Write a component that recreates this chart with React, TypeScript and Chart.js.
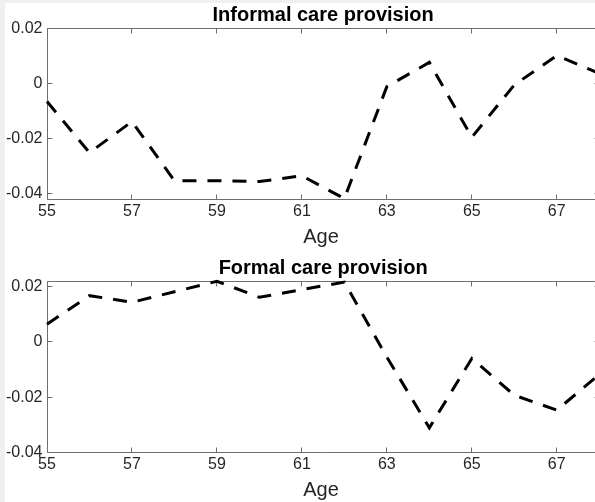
import { useEffect, useRef } from 'react';
import { Chart, registerables } from 'chart.js';

Chart.register(...registerables);

// ---- data ----
const AGES = [55, 56, 57, 58, 59, 60, 61, 62, 63, 64, 65, 66, 67, 68];
const INFORMAL = [-0.0065, -0.0251, -0.0138, -0.0353, -0.0353, -0.0356, -0.0335, -0.0418, -0.0011, 0.0077, -0.0195, -0.0005, 0.0102, 0.0037];
const FORMAL = [0.0064, 0.0167, 0.0143, 0.0181, 0.0219, 0.0161, 0.0189, 0.0216, -0.0055, -0.0311, -0.006, -0.0193, -0.0247, -0.0118];
const X_TICKS = [55, 57, 59, 61, 63, 65, 67];
const Y_TICKS = [-0.04, -0.02, 0, 0.02];
const X_LABEL = 'Age';
const TITLES = ['Informal care provision', 'Formal care provision'];

// visible part of the x axis (the axes run on to 68, just past the window edge)
const X_MIN = 55;
const X_VISIBLE_MAX = 67.9;
const X_FULL_MAX = 68;

const FONT = "'Liberation Sans', Arial, Helvetica, sans-serif";
const TEXT_COLOR = '#262626';
const AXIS_COLOR = '#6e6e6e';
const CANVAS_W = 595;
const CANVAS_H = 251;

type Panel = {
  title: string;
  values: number[];
  yMin: number;
  yMax: number;
  padTop: number;
  titleBaseline: number;
  xAxisHeight: number;
  labelPadBottom: number;
};

const PANELS: Panel[] = [
  { title: TITLES[0], values: INFORMAL, yMin: -0.0423, yMax: 0.0202, padTop: 28, titleBaseline: 20.5, xAxisHeight: 51, labelPadBottom: 3.5 },
  { title: TITLES[1], values: FORMAL, yMin: -0.0402, yMax: 0.022, padTop: 30, titleBaseline: 23, xAxisHeight: 49, labelPadBottom: 1.5 },
];

const matlabBox = {
  id: 'matlabBox',
  beforeDatasetsDraw(chart: any) {
    const { ctx, chartArea, scales } = chart;
    const { left, top, bottom } = chartArea;
    const x = scales.x;
    const y = scales.y;
    ctx.save();
    ctx.strokeStyle = AXIS_COLOR;
    ctx.lineWidth = 1;
    ctx.beginPath();
    const L = Math.floor(left) + 0.5;
    const T = Math.floor(top) + 0.5;
    const B = Math.ceil(bottom) - 0.5;
    const R = Math.ceil(x.getPixelForValue(X_FULL_MAX)) - 0.5;
    ctx.moveTo(R, T);
    ctx.lineTo(L, T);
    ctx.lineTo(L, B);
    ctx.lineTo(R, B);
    const len = 5;
    X_TICKS.forEach((v) => {
      const px = Math.floor(x.getPixelForValue(v)) + 0.5;
      ctx.moveTo(px, B);
      ctx.lineTo(px, B - len);
      ctx.moveTo(px, T);
      ctx.lineTo(px, T + len);
    });
    Y_TICKS.forEach((v) => {
      const py = Math.floor(y.getPixelForValue(v)) + 0.5;
      ctx.moveTo(L, py);
      ctx.lineTo(L + len, py);
      ctx.moveTo(R, py);
      ctx.lineTo(R - len, py);
    });
    ctx.stroke();
    ctx.restore();
  },
  afterDraw(chart: any, _args: any, opts: any) {
    const { ctx, scales } = chart;
    const cx = scales.x.getPixelForValue((X_MIN + X_FULL_MAX) / 2);
    ctx.save();
    ctx.font = `bold 20px ${FONT}`;
    ctx.fillStyle = '#000';
    ctx.textAlign = 'center';
    ctx.textBaseline = 'alphabetic';
    ctx.fillText(opts.text, cx, opts.baseline);
    ctx.restore();
  },
};

function makeChart(canvas: HTMLCanvasElement, p: Panel) {
  return new Chart(canvas, {
    type: 'line',
    data: {
      datasets: [
        {
          data: AGES.map((a, i) => ({ x: a, y: p.values[i] })),
          borderColor: '#000',
          borderWidth: 3,
          borderDash: [14, 11],
          borderCapStyle: 'butt',
          pointRadius: 0,
          tension: 0,
          fill: false,
          clip: false,
        },
      ],
    },
    options: {
      responsive: false,
      animation: false,
      devicePixelRatio: 1,
      layout: { padding: { top: p.padTop, right: 0, left: 0, bottom: 0 } },
      plugins: {
        legend: { display: false },
        tooltip: { enabled: false },
        title: { display: false },
        matlabBox: { text: p.title, baseline: p.titleBaseline },
      } as any,
      scales: {
        x: {
          type: 'linear',
          min: X_MIN,
          max: X_VISIBLE_MAX,
          afterBuildTicks: (s: any) => {
            s.ticks = X_TICKS.map((value) => ({ value }));
          },
          afterFit: (s: any) => {
            s.height = p.xAxisHeight;
            s.paddingRight = 0;
          },
          grid: { display: false, drawTicks: false },
          border: { display: false },
          ticks: {
            color: TEXT_COLOR,
            font: { family: FONT, size: 16 },
            padding: 1.5,
            maxRotation: 0,
            autoSkip: false,
            callback: (v: any) => String(v),
          },
          title: {
            display: true,
            text: X_LABEL,
            color: TEXT_COLOR,
            font: { family: FONT, size: 20, lineHeight: 1 },
            padding: { top: 0, bottom: p.labelPadBottom },
          },
        },
        y: {
          type: 'linear',
          min: p.yMin,
          max: p.yMax,
          afterBuildTicks: (s: any) => {
            s.ticks = Y_TICKS.map((value) => ({ value }));
          },
          afterFit: (s: any) => {
            s.width = 47;
          },
          grid: { display: false, drawTicks: false },
          border: { display: false },
          ticks: {
            color: TEXT_COLOR,
            font: { family: FONT, size: 16 },
            padding: 4.5,
            autoSkip: false,
            callback: (v: any) => (Math.abs(v) < 1e-9 ? '0' : Number(v).toFixed(2)),
          },
        },
      },
    },
    plugins: [matlabBox as any],
  } as any);
}

export default function App() {
  const topRef = useRef<HTMLCanvasElement>(null);
  const botRef = useRef<HTMLCanvasElement>(null);

  useEffect(() => {
    document.body.style.margin = '0';
    document.body.style.overflow = 'hidden';
    const charts: Chart[] = [];
    if (topRef.current) charts.push(makeChart(topRef.current, PANELS[0]));
    if (botRef.current) charts.push(makeChart(botRef.current, PANELS[1]));
    return () => charts.forEach((c) => c.destroy());
  }, []);

  return (
    <div style={{ position: 'relative', width: 595, height: 502, overflow: 'hidden', background: '#f0f0f0' }}>
      <div style={{ position: 'absolute', left: 5, top: 3, right: 0, bottom: 0, background: '#ffffff' }} />
      <canvas ref={topRef} width={CANVAS_W} height={CANVAS_H} style={{ position: 'absolute', left: 0, top: 0 }} />
      <canvas ref={botRef} width={CANVAS_W} height={CANVAS_H} style={{ position: 'absolute', left: 0, top: CANVAS_H }} />
    </div>
  );
}
